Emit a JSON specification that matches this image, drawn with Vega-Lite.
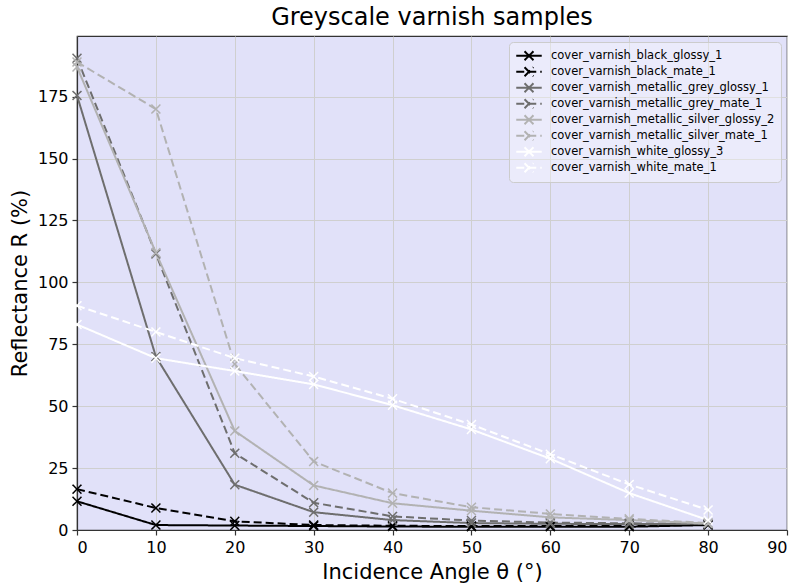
{
  "$schema": "https://vega.github.io/schema/vega-lite/v6.json",
  "autosize": {"type": "none"},
  "width": 710,
  "height": 494,
  "padding": {"left": 77, "top": 36, "right": 15, "bottom": 54},
  "background": "white",
  "title": {"text": "Greyscale varnish samples", "fontSize": 24, "font": "DejaVu Sans", "fontWeight": "normal", "color": "#000", "offset": 6, "anchor": "middle"},
  "config": {
    "view": {"fill": "#e1e1f9", "stroke": "#333", "strokeWidth": 1.2},
    "axis": {
      "labelFont": "DejaVu Sans", "labelFontSize": 16, "labelColor": "#000",
      "titleFont": "DejaVu Sans", "titleFontSize": 21, "titleFontWeight": "normal", "titleColor": "#000",
      "gridColor": "#cfcfcf", "gridWidth": 1, "gridOpacity": 1,
      "domainColor": "#333", "domainWidth": 1.2,
      "tickColor": "#333", "tickSize": 5, "tickWidth": 1.2
    }
  },
  "data": {"values": [
    {"angle": 0, "series": "cover_varnish_black_glossy_1", "R": 11.6},
    {"angle": 10, "series": "cover_varnish_black_glossy_1", "R": 2.0},
    {"angle": 20, "series": "cover_varnish_black_glossy_1", "R": 1.8},
    {"angle": 30, "series": "cover_varnish_black_glossy_1", "R": 1.6},
    {"angle": 40, "series": "cover_varnish_black_glossy_1", "R": 1.4},
    {"angle": 50, "series": "cover_varnish_black_glossy_1", "R": 1.3},
    {"angle": 60, "series": "cover_varnish_black_glossy_1", "R": 1.3},
    {"angle": 70, "series": "cover_varnish_black_glossy_1", "R": 1.3},
    {"angle": 80, "series": "cover_varnish_black_glossy_1", "R": 2.0},
    {"angle": 0, "series": "cover_varnish_black_mate_1", "R": 16.5},
    {"angle": 10, "series": "cover_varnish_black_mate_1", "R": 8.9},
    {"angle": 20, "series": "cover_varnish_black_mate_1", "R": 3.5},
    {"angle": 30, "series": "cover_varnish_black_mate_1", "R": 2.0},
    {"angle": 40, "series": "cover_varnish_black_mate_1", "R": 1.7},
    {"angle": 50, "series": "cover_varnish_black_mate_1", "R": 1.6},
    {"angle": 60, "series": "cover_varnish_black_mate_1", "R": 1.6},
    {"angle": 70, "series": "cover_varnish_black_mate_1", "R": 1.6},
    {"angle": 80, "series": "cover_varnish_black_mate_1", "R": 2.2},
    {"angle": 0, "series": "cover_varnish_metallic_grey_glossy_1", "R": 175.5},
    {"angle": 10, "series": "cover_varnish_metallic_grey_glossy_1", "R": 70.0},
    {"angle": 20, "series": "cover_varnish_metallic_grey_glossy_1", "R": 18.3},
    {"angle": 30, "series": "cover_varnish_metallic_grey_glossy_1", "R": 7.2},
    {"angle": 40, "series": "cover_varnish_metallic_grey_glossy_1", "R": 4.0},
    {"angle": 50, "series": "cover_varnish_metallic_grey_glossy_1", "R": 2.8},
    {"angle": 60, "series": "cover_varnish_metallic_grey_glossy_1", "R": 2.5},
    {"angle": 70, "series": "cover_varnish_metallic_grey_glossy_1", "R": 2.4},
    {"angle": 80, "series": "cover_varnish_metallic_grey_glossy_1", "R": 2.5},
    {"angle": 0, "series": "cover_varnish_metallic_grey_mate_1", "R": 190.5},
    {"angle": 10, "series": "cover_varnish_metallic_grey_mate_1", "R": 111.5},
    {"angle": 20, "series": "cover_varnish_metallic_grey_mate_1", "R": 31.0},
    {"angle": 30, "series": "cover_varnish_metallic_grey_mate_1", "R": 11.0},
    {"angle": 40, "series": "cover_varnish_metallic_grey_mate_1", "R": 5.5},
    {"angle": 50, "series": "cover_varnish_metallic_grey_mate_1", "R": 3.8},
    {"angle": 60, "series": "cover_varnish_metallic_grey_mate_1", "R": 3.0},
    {"angle": 70, "series": "cover_varnish_metallic_grey_mate_1", "R": 2.7},
    {"angle": 80, "series": "cover_varnish_metallic_grey_mate_1", "R": 2.5},
    {"angle": 0, "series": "cover_varnish_metallic_silver_glossy_2", "R": 187.0},
    {"angle": 10, "series": "cover_varnish_metallic_silver_glossy_2", "R": 112.0},
    {"angle": 20, "series": "cover_varnish_metallic_silver_glossy_2", "R": 40.0},
    {"angle": 30, "series": "cover_varnish_metallic_silver_glossy_2", "R": 18.0},
    {"angle": 40, "series": "cover_varnish_metallic_silver_glossy_2", "R": 10.8},
    {"angle": 50, "series": "cover_varnish_metallic_silver_glossy_2", "R": 7.8},
    {"angle": 60, "series": "cover_varnish_metallic_silver_glossy_2", "R": 5.1},
    {"angle": 70, "series": "cover_varnish_metallic_silver_glossy_2", "R": 4.0},
    {"angle": 80, "series": "cover_varnish_metallic_silver_glossy_2", "R": 2.6},
    {"angle": 0, "series": "cover_varnish_metallic_silver_mate_1", "R": 189.0},
    {"angle": 10, "series": "cover_varnish_metallic_silver_mate_1", "R": 170.0},
    {"angle": 20, "series": "cover_varnish_metallic_silver_mate_1", "R": 67.0},
    {"angle": 30, "series": "cover_varnish_metallic_silver_mate_1", "R": 27.7},
    {"angle": 40, "series": "cover_varnish_metallic_silver_mate_1", "R": 14.9},
    {"angle": 50, "series": "cover_varnish_metallic_silver_mate_1", "R": 9.2},
    {"angle": 60, "series": "cover_varnish_metallic_silver_mate_1", "R": 6.5},
    {"angle": 70, "series": "cover_varnish_metallic_silver_mate_1", "R": 4.5},
    {"angle": 80, "series": "cover_varnish_metallic_silver_mate_1", "R": 2.8},
    {"angle": 0, "series": "cover_varnish_white_glossy_3", "R": 83.0},
    {"angle": 10, "series": "cover_varnish_white_glossy_3", "R": 69.4},
    {"angle": 20, "series": "cover_varnish_white_glossy_3", "R": 64.2},
    {"angle": 30, "series": "cover_varnish_white_glossy_3", "R": 58.8},
    {"angle": 40, "series": "cover_varnish_white_glossy_3", "R": 50.4},
    {"angle": 50, "series": "cover_varnish_white_glossy_3", "R": 40.6},
    {"angle": 60, "series": "cover_varnish_white_glossy_3", "R": 28.8},
    {"angle": 70, "series": "cover_varnish_white_glossy_3", "R": 14.9},
    {"angle": 80, "series": "cover_varnish_white_glossy_3", "R": 4.0},
    {"angle": 0, "series": "cover_varnish_white_mate_1", "R": 90.6},
    {"angle": 10, "series": "cover_varnish_white_mate_1", "R": 80.0},
    {"angle": 20, "series": "cover_varnish_white_mate_1", "R": 69.4},
    {"angle": 30, "series": "cover_varnish_white_mate_1", "R": 62.0},
    {"angle": 40, "series": "cover_varnish_white_mate_1", "R": 53.0},
    {"angle": 50, "series": "cover_varnish_white_mate_1", "R": 42.6},
    {"angle": 60, "series": "cover_varnish_white_mate_1", "R": 30.6},
    {"angle": 70, "series": "cover_varnish_white_mate_1", "R": 18.4},
    {"angle": 80, "series": "cover_varnish_white_mate_1", "R": 8.1}
  ]},
  "encoding": {
    "x": {"field": "angle", "type": "quantitative", "title": "Incidence Angle θ (°)",
          "scale": {"domain": [0, 90], "nice": false, "zero": false},
          "axis": {"values": [0, 10, 20, 30, 40, 50, 60, 70, 80, 90], "labelPadding": 4, "titlePadding": 6, "grid": true}},
    "y": {"field": "R", "type": "quantitative", "title": "Reflectance R (%)",
          "scale": {"domain": [0, 199.5], "nice": false},
          "axis": {"values": [0, 25, 50, 75, 100, 125, 150, 175], "labelPadding": 4, "titlePadding": 7, "grid": true}},
    "color": {"field": "series", "type": "nominal", "title": null,
      "scale": {"domain": ["cover_varnish_black_glossy_1", "cover_varnish_black_mate_1", "cover_varnish_metallic_grey_glossy_1", "cover_varnish_metallic_grey_mate_1", "cover_varnish_metallic_silver_glossy_2", "cover_varnish_metallic_silver_mate_1", "cover_varnish_white_glossy_3", "cover_varnish_white_mate_1"],
                "range": ["#000000", "#000000", "#6e6e6e", "#6e6e6e", "#b2b2b2", "#b2b2b2", "#ffffff", "#ffffff"]},
      "legend": {"orient": "top-right", "offset": 6, "symbolType": "M-1,0H1M-0.35,-0.35L0.35,0.35M-0.35,0.35L0.35,-0.35", "symbolSize": 650, "symbolStrokeWidth": 2, "symbolFillColor": "transparent", "clipHeight": 15.5, "rowPadding": 0, "labelFont": "DejaVu Sans", "labelFontSize": 11.5, "labelLimit": 400, "labelColor": "#000", "labelOffset": 8, "fillColor": "rgba(255,255,255,0.35)", "strokeColor": "#cccccc", "cornerRadius": 4, "padding": 6}},
    "strokeDash": {"field": "series", "type": "nominal", "title": null,
      "scale": {"domain": ["cover_varnish_black_glossy_1", "cover_varnish_black_mate_1", "cover_varnish_metallic_grey_glossy_1", "cover_varnish_metallic_grey_mate_1", "cover_varnish_metallic_silver_glossy_2", "cover_varnish_metallic_silver_mate_1", "cover_varnish_white_glossy_3", "cover_varnish_white_mate_1"],
                "range": [[1, 0], [8, 4], [1, 0], [8, 4], [1, 0], [8, 4], [1, 0], [8, 4]]}}
  },
  "layer": [
    {"mark": {"type": "line", "strokeWidth": 2}},
    {"mark": {"type": "point", "shape": "M-1,-1L1,1M-1,1L1,-1", "filled": false, "size": 80, "strokeWidth": 1.5, "opacity": 1, "strokeDash": [1, 0]},
     "encoding": {"strokeDash": {"value": [1, 0]}}}
  ]
}
